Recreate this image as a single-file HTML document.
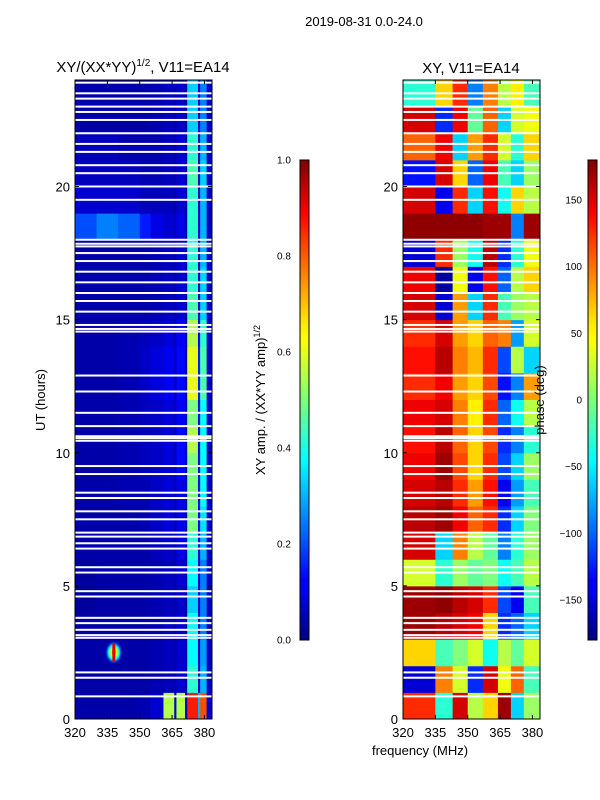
<!DOCTYPE html>
<html><head><meta charset="utf-8">
<style>
html,body{margin:0;padding:0;background:#fff;}
svg{display:block;font-family:"Liberation Sans","DejaVu Sans",sans-serif;}
</style></head>
<body>
<svg id="fig" width="600" height="800" viewBox="0 0 600 800">
  <defs>
    <linearGradient id="jetV" x1="0" y1="1" x2="0" y2="0">
      <stop offset="0" stop-color="#00007f"/>
      <stop offset="0.11" stop-color="#0000ff"/>
      <stop offset="0.125" stop-color="#0000ff"/>
      <stop offset="0.34" stop-color="#00dcff"/>
      <stop offset="0.375" stop-color="#00ffff"/>
      <stop offset="0.5" stop-color="#7dff7a"/>
      <stop offset="0.625" stop-color="#ffff00"/>
      <stop offset="0.66" stop-color="#ffea00"/>
      <stop offset="0.89" stop-color="#ff0000"/>
      <stop offset="1" stop-color="#7f0000"/>
    </linearGradient>
    <clipPath id="clipL"><rect x="75" y="80" width="137" height="639"/></clipPath>
    <clipPath id="clipR"><rect x="403" y="80" width="137" height="639"/></clipPath>
    <radialGradient id="spotG">
      <stop offset="0" stop-color="#ff0000"/>
      <stop offset="0.3" stop-color="#ffff00"/>
      <stop offset="0.6" stop-color="#00ffff"/>
      <stop offset="1" stop-color="#0000ff" stop-opacity="0"/>
    </radialGradient>
  </defs>
  <text x="364" y="26" font-size="13" text-anchor="middle">2019-08-31 0.0-24.0</text>
  <text x="143" y="72" font-size="15" text-anchor="middle">XY/(XX*YY)<tspan font-size="10" dy="-6">1/2</tspan><tspan dy="6">, V11=EA14</tspan></text>
  <text x="471" y="73" font-size="15" text-anchor="middle">XY, V11=EA14</text>
  <g id="leftPanel"></g>
  <g id="rightPanel"></g>
  <g id="axes"></g>
  <text transform="translate(45,400) rotate(-90)" font-size="13" text-anchor="middle">UT (hours)</text>
  <text x="420" y="755" font-size="13" text-anchor="middle">frequency (MHz)</text>
  <rect x="300" y="160" width="9" height="480" fill="url(#jetV)" stroke="#000" stroke-width="1"/>
  <rect x="588" y="160" width="9" height="480" fill="url(#jetV)" stroke="#000" stroke-width="1"/>
  <text transform="translate(265,400) rotate(-90)" font-size="13" text-anchor="middle">XY amp. / (XX*YY amp)<tspan font-size="9" dy="-5">1/2</tspan></text>
  <text transform="translate(544,400) rotate(-90)" font-size="13" text-anchor="middle">phase (deg)</text>
</svg>
<script>
const ampFreqEdges = [320,330,340,350,355,361,366,367,371,372,377,378,381,383.5];
const ampRows = [
 [0.04,0.04,0.04,0.05,0.08,0.55,0.08,0.55,0.08,0.85,0.3,0.8,0.08],
 [0.04,0.04,0.04,0.04,0.05,0.06,0.04,0.08,0.04,0.42,0.08,0.3,0.06],
 [0.04,0.04,0.04,0.04,0.05,0.06,0.04,0.08,0.04,0.38,0.08,0.28,0.06],
 [0.04,0.04,0.04,0.04,0.05,0.07,0.04,0.08,0.04,0.38,0.08,0.25,0.06],
 [0.03,0.04,0.04,0.04,0.05,0.06,0.04,0.07,0.04,0.33,0.08,0.25,0.06],
 [0.03,0.04,0.04,0.04,0.05,0.06,0.04,0.08,0.04,0.38,0.08,0.25,0.06],
 [0.04,0.04,0.04,0.04,0.06,0.07,0.04,0.1,0.04,0.42,0.1,0.3,0.06],
 [0.04,0.04,0.04,0.05,0.07,0.09,0.04,0.1,0.04,0.5,0.12,0.35,0.07],
 [0.04,0.04,0.05,0.05,0.07,0.09,0.04,0.1,0.04,0.5,0.12,0.38,0.07],
 [0.04,0.04,0.05,0.06,0.07,0.09,0.04,0.13,0.04,0.5,0.12,0.38,0.07],
 [0.04,0.04,0.05,0.06,0.07,0.09,0.04,0.13,0.04,0.55,0.12,0.38,0.07],
 [0.04,0.04,0.05,0.06,0.07,0.09,0.04,0.12,0.04,0.5,0.12,0.38,0.07],
 [0.04,0.04,0.05,0.07,0.09,0.11,0.04,0.13,0.04,0.6,0.15,0.45,0.07],
 [0.04,0.04,0.05,0.07,0.09,0.11,0.04,0.13,0.04,0.6,0.15,0.45,0.07],
 [0.04,0.04,0.05,0.06,0.07,0.09,0.04,0.12,0.04,0.55,0.12,0.42,0.07],
 [0.04,0.04,0.04,0.04,0.05,0.06,0.04,0.08,0.04,0.45,0.08,0.33,0.06],
 [0.04,0.04,0.04,0.04,0.05,0.06,0.04,0.08,0.04,0.42,0.08,0.33,0.06],
 [0.04,0.04,0.04,0.04,0.05,0.06,0.04,0.08,0.04,0.42,0.08,0.3,0.06],
 [0.2,0.25,0.22,0.15,0.1,0.08,0.06,0.1,0.04,0.42,0.1,0.3,0.06],
 [0.08,0.08,0.08,0.06,0.06,0.06,0.04,0.08,0.04,0.42,0.08,0.3,0.06],
 [0.06,0.06,0.06,0.05,0.05,0.06,0.04,0.08,0.04,0.45,0.08,0.33,0.06],
 [0.06,0.06,0.05,0.05,0.05,0.06,0.04,0.08,0.04,0.42,0.08,0.3,0.06],
 [0.04,0.04,0.04,0.04,0.05,0.06,0.04,0.07,0.04,0.33,0.08,0.25,0.06],
 [0.04,0.04,0.04,0.04,0.05,0.06,0.04,0.07,0.04,0.33,0.08,0.25,0.06]
];
const phaseFreqEdges = [320,335,343,350,357,364,370,376,383.5];
const phaseRows = [
 [120,-30,150,20,60,170,-60,10],
 [-150,90,30,-120,150,40,100,-20],
 [60,-20,0,30,-40,20,-10,30],
 [170,160,150,140,60,-120,-100,-60],
 [170,175,160,150,120,-110,-140,-20],
 [30,-30,10,-10,0,-40,-20,20],
 [150,-60,90,20,-10,-90,-30,10],
 [160,170,140,100,120,-120,-60,0],
 [150,160,120,80,130,-140,-80,-20],
 [140,170,110,60,120,-110,-60,10],
 [130,160,100,60,110,-120,-90,-30],
 [140,150,90,50,120,-100,-40,20],
 [120,140,80,60,110,-130,-90,80],
 [130,160,90,70,120,-110,20,-60],
 [120,150,80,60,100,90,-80,30],
 [150,-150,80,-60,120,-20,10,20],
 [140,-170,40,-140,130,-100,20,60],
 [-150,120,10,-40,160,-120,-30,40],
 [175,175,175,175,170,170,-90,170],
 [150,-140,120,-60,130,-40,60,20],
 [-130,150,60,-100,140,-20,-60,10],
 [100,140,-60,80,120,30,-30,60],
 [150,-120,140,-10,100,-60,30,40],
 [-30,60,120,-90,90,20,50,-20]
];
const flagHours = [0.85,1.55,1.75,3.05,3.15,3.35,3.6,3.8,4.6,4.8,5.5,5.7,6.4,6.6,6.85,7.0,7.5,7.8,8.3,8.5,9.2,9.5,10.45,10.55,10.62,11.0,11.5,12.3,12.9,14.55,14.65,14.8,15.3,15.7,16.0,16.4,16.8,17.2,17.5,17.75,17.85,18.0,19.5,20.0,20.5,20.8,21.3,21.6,22.0,22.5,22.8,23.0,23.3,23.5,23.9];
const spotFreq = [338];
const spotHour = [2.5];
const hourTicks = [0,5,10,15,20];
const freqTicks = [320,335,350,365,380];
const ampTicks = [0.0,0.2,0.4,0.6,0.8,1.0];
const phaseTicks = [-150,-100,-50,0,50,100,150];

const NS = "http://www.w3.org/2000/svg";
function jet(v){
  v=Math.max(0,Math.min(1,v));
  const r=Math.min(4*v-1.5,-4*v+4.5), g=Math.min(4*v-0.5,-4*v+3.5), b=Math.min(4*v+0.5,-4*v+2.5);
  const c=x=>Math.round(255*Math.max(0,Math.min(1,x)));
  return `rgb(${c(r)},${c(g)},${c(b)})`;
}
function mk(tag,attrs,parent){const e=document.createElementNS(NS,tag);for(const k in attrs)e.setAttribute(k,attrs[k]);parent.appendChild(e);return e;}
function xS(x0){return f=>x0+(f-320)*137/63.5;}
const yS=h=>719-h*(639/24);
const xL=xS(75), xR=xS(403);

const L=document.getElementById('leftPanel');
const gl=mk('g',{'clip-path':'url(#clipL)'},L);
ampRows.forEach((row,i)=>{row.forEach((v,j)=>{
  const r=mk('rect',{x:xL(ampFreqEdges[j]),y:yS(i+1),width:xL(ampFreqEdges[j+1])-xL(ampFreqEdges[j])+0.5,height:yS(i)-yS(i+1)+0.5,fill:jet(v)},gl);
  
  
});});
spotFreq.forEach((f,i)=>{
  const e=mk('ellipse',{cx:xL(f),cy:yS(spotHour[i]),rx:9,ry:12,fill:'url(#spotG)'},gl);
  
  
  const e2=mk('rect',{x:xL(f)-1.5,y:yS(spotHour[i])-9,width:3,height:18,fill:'#e00000'},gl);
  
  
});
const R=document.getElementById('rightPanel');
const gr=mk('g',{'clip-path':'url(#clipR)'},R);
phaseRows.forEach((row,i)=>{row.forEach((v,j)=>{
  const r=mk('rect',{x:xR(phaseFreqEdges[j]),y:yS(i+1),width:xR(phaseFreqEdges[j+1])-xR(phaseFreqEdges[j])+0.5,height:yS(i)-yS(i+1)+0.5,fill:jet((v+180)/360)},gr);
  
  
});});
[gl,gr].forEach((g,k)=>{
  const x0=k?403:75;
  flagHours.forEach(h=>{
    const r=mk('rect',{x:x0,y:yS(h)-1,width:137,height:2,fill:'#fff'},g);
    
    
  });
});

const A=document.getElementById('axes');
[75,403].forEach((x0,k)=>{
  const fr=mk('rect',{x:x0,y:80,width:137,height:639,fill:'none',stroke:'#000','stroke-width':1},A);
  
  
  const xs=k?xR:xL;
  hourTicks.forEach(h=>{
    const y=yS(h);
    mk('line',{x1:x0,x2:x0+4,y1:y,y2:y,stroke:'#000'},A);
    mk('line',{x1:x0+137,x2:x0+133,y1:y,y2:y,stroke:'#000'},A);
    const t=mk('text',{x:x0-5,y:y+5,'font-size':13,'text-anchor':'end'},A);
    t.textContent=h;
    
    
  });
  freqTicks.forEach(f=>{
    const x=xs(f);
    mk('line',{x1:x,x2:x,y1:719,y2:715,stroke:'#000'},A);
    mk('line',{x1:x,x2:x,y1:80,y2:84,stroke:'#000'},A);
    const t=mk('text',{x:x,y:737,'font-size':13,'text-anchor':'middle'},A);
    t.textContent=f;
    
    
  });
});
ampTicks.forEach(v=>{
  const y=640-v*480;
  mk('line',{x1:305,x2:309,y1:y,y2:y,stroke:'#000'},A);
  const t=mk('text',{x:277,y:y+3.5,'font-size':10},A);
  t.textContent=v.toFixed(1);
  
  
});
phaseTicks.forEach(v=>{
  const y=400-v*480/360;
  mk('line',{x1:593,x2:597,y1:y,y2:y,stroke:'#000'},A);
  const t=mk('text',{x:582,y:y+3.5,'font-size':10,'text-anchor':'end'},A);
  t.textContent=v<0?'\u2212'+(-v):v;
  
  
});
</script>
</body></html>
